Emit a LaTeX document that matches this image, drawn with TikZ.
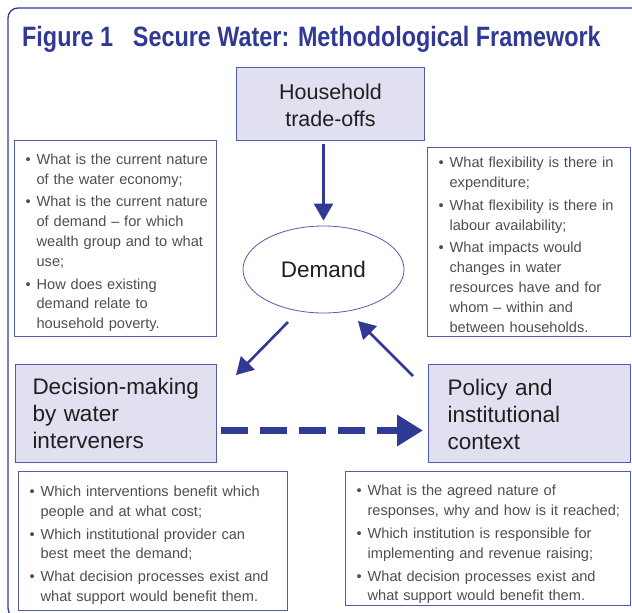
\documentclass[tikz,border=0pt]{standalone}
\usepackage{fontspec}
\usepackage{graphicx}
\setmainfont{Liberation Sans}
\usetikzlibrary{arrows.meta,shapes.geometric}
\definecolor{fwblue}{RGB}{48,58,148}
\definecolor{fwline}{RGB}{82,92,172}
\definecolor{fwfill}{RGB}{224,224,240}
\definecolor{fwtext}{RGB}{78,78,78}
% lowers a block of text without changing its size
\newcommand{\lowered}[2]{\raisebox{-#1}[\height][\depth]{#2}}
\newcommand{\qlist}[2]{\lowered{#1}{\begin{tabular}{@{}c@{\hspace{6pt}}l@{}}#2\end{tabular}}}
\begin{document}
\begin{tikzpicture}[x=1pt,y=-1pt,
    topic/.style={draw=fwline,fill=fwfill,line width=1pt,anchor=north west,inner ysep=0pt,
      font=\fontsize{22.5}{27}\selectfont,text=black!88},
    qbox/.style={draw=fwline,line width=1pt,anchor=north west,inner xsep=11pt,inner ysep=0pt,
      align=left,text=fwtext,font=\fontsize{14.6}{19.8}\selectfont},
    link/.style={draw=fwblue,line width=2.6pt,-{Triangle[length=17pt,width=19pt]}},
    flow/.style={draw=fwblue,line width=7.5pt,dash pattern=on 27pt off 12pt,
      -{Triangle[length=26pt,width=30pt]}}]
  \useasboundingbox (0,0) rectangle (632,613);
  \draw[fwblue,line width=1.3pt,rounded corners=10pt] (8,8) rectangle (660,618);
  \node[anchor=base west,inner sep=0pt,text=fwblue,font=\fontsize{28}{28}\selectfont\bfseries] (title) at (22,46)
    {\scalebox{0.835}[1]{Figure 1\hspace{0.85em}Secure Water: Methodological Framework}};

  \node[topic,minimum width=188,minimum height=73,text width=168,align=center,
    font=\fontsize{21.5}{27}\selectfont] (house) at (236,67)
    {\lowered{4pt}{\begin{tabular}{@{}c@{}}Household\\trade-offs\end{tabular}}};
  \node[ellipse,draw=fwline,line width=0.8pt,minimum width=161,minimum height=87,inner sep=0pt,
    font=\fontsize{22.5}{27}\selectfont,text=black!88] (demand) at (323.5,269.5) {Demand};
  \node[topic,minimum width=201,minimum height=98,inner xsep=17pt,text width=167,align=left] (decision) at (15,364)
    {Decision-making\\by water\\interveners};
  \node[topic,minimum width=202,minimum height=98,inner xsep=19pt,text width=164,align=left] (policy) at (428,364)
    {\lowered{4pt}{\begin{tabular}{@{}l@{}}Policy and\\institutional\\context\end{tabular}}};

  \node[qbox,minimum width=202,minimum height=196,text width=180] (qleft) at (14,140)
    {\qlist{4pt}{
      \textbullet & What is the current nature\\
       & of the water economy;\\[3pt]
      \textbullet & What is the current nature\\
       & of demand -- for which\\
       & wealth group and to what\\
       & use;\\[3pt]
      \textbullet & How does existing\\
       & demand relate to\\
       & household poverty.}};
  \node[qbox,minimum width=203,minimum height=189,text width=181] (qright) at (427,147)
    {\qlist{4pt}{
      \textbullet & What flexibility is there in\\
       & expenditure;\\[3pt]
      \textbullet & What flexibility is there in\\
       & labour availability;\\[3pt]
      \textbullet & What impacts would\\
       & changes in water\\
       & resources have and for\\
       & whom -- within and\\
       & between households.}};
  \node[qbox,minimum width=269,minimum height=139,text width=247] (qdecision) at (18,471)
    {\qlist{4pt}{
      \textbullet & Which interventions benefit which\\
       & people and at what cost;\\[3pt]
      \textbullet & Which institutional provider can\\
       & best meet the demand;\\[3pt]
      \textbullet & What decision processes exist and\\
       & what support would benefit them.}};
  \node[qbox,minimum width=285,minimum height=134,text width=263] (qpolicy) at (345,471)
    {\qlist{6pt}{
      \textbullet & What is the agreed nature of\\
       & responses, why and how is it reached;\\[3pt]
      \textbullet & Which institution is responsible for\\
       & implementing and revenue raising;\\[3pt]
      \textbullet & What decision processes exist and\\
       & what support would benefit them.}};

  \draw[link,shorten <=3pt,shorten >=5pt] (house.south -| demand.north) -- (demand.north);
  \draw[link] ([shift={(-35.5,52.5)}]demand.center) -- ([shift={(19,11)}]decision.north east);
  \draw[link] ([shift={(-15,12)}]policy.north west) -- ([shift={(34.5,51.5)}]demand.center);
  \draw[flow] ([shift={(4,17)}]decision.east) -- ([shift={(-5,17)}]policy.west);
\end{tikzpicture}
\end{document}
